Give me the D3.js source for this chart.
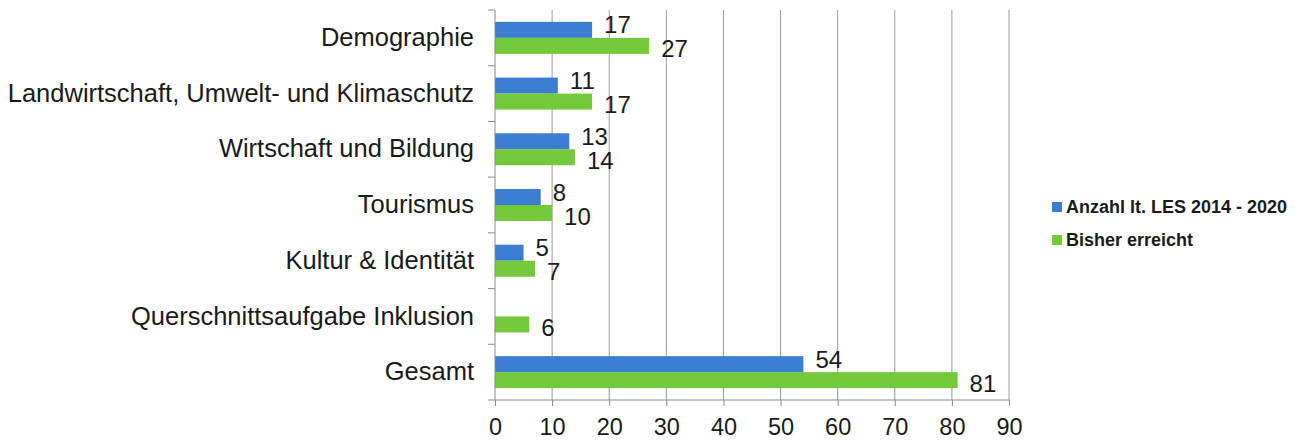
<!DOCTYPE html>
<html>
<head>
<meta charset="utf-8">
<script src="https://cdn.jsdelivr.net/npm/d3@7"></script>
<style>
  body { margin: 0; background: #fff; }
  text { font-family: "Liberation Sans", Arial, sans-serif; fill: #1a1a1a; }
</style>
</head>
<body>
<div id="vis"></div>
<script>
// data
var categories = ["Demographie", "Landwirtschaft, Umwelt- und Klimaschutz", "Wirtschaft und Bildung",
  "Tourismus", "Kultur & Identität", "Querschnittsaufgabe Inklusion", "Gesamt"];
var planned = [17, 11, 13, 8, 5, null, 54];
var reached = [27, 17, 14, 10, 7, 6, 81];
var seriesNames = ["Anzahl lt. LES 2014 - 2020", "Bisher erreicht"];
var colors = ["#3b7dd0", "#74c93b"];
var xTicks = [0, 10, 20, 30, 40, 50, 60, 70, 80, 90];

var width = 1301, height = 443;
var margin = { top: 10, left: 495, bottom: 43, right: 292 };

var svg = d3.select('#vis').append('svg')
  .attr('width', width)
  .attr('height', height);

var x = d3.scaleLinear()
  .domain([0, 90])
  .range([margin.left, width - margin.right]);

var y = d3.scaleBand()
  .domain(categories)
  .range([margin.top, height - margin.bottom]);

var barH = 16;

// gridlines
svg.append('g').selectAll('line')
  .data(xTicks.slice(1))
  .enter().append('line')
  .attr('x1', function(d) { return x(d); })
  .attr('x2', function(d) { return x(d); })
  .attr('y1', margin.top)
  .attr('y2', height - margin.bottom)
  .attr('stroke', '#9a9a9a')
  .attr('stroke-width', 1);

// bars
var rows = categories.map(function(c, i) {
  return { cat: c, vals: [planned[i], reached[i]] };
});

rows.forEach(function(r) {
  var mid = y(r.cat) + y.bandwidth() / 2;
  r.vals.forEach(function(v, j) {
    if (v == null) return;
    var top = j === 0 ? mid - barH : mid;
    svg.append('rect')
      .attr('x', x(0))
      .attr('y', top)
      .attr('width', x(v) - x(0))
      .attr('height', barH)
      .attr('fill', colors[j]);
    svg.append('text')
      .attr('x', x(v) + 12)
      .attr('y', top + barH / 2 + (j === 0 ? -5 : 3))
      .attr('dominant-baseline', 'central')
      .attr('font-size', 24)
      .text(v);
  });
});

// left axis
var yAxis = d3.axisLeft(y).tickSize(0).tickPadding(21);
var gy = svg.append('g')
  .attr('transform', 'translate(' + x(0) + ',0)')
  .call(yAxis);
gy.select('.domain').remove();
gy.selectAll('text').attr('font-size', 25.5).attr('fill', '#1a1a1a').attr('font-family', null);

svg.append('line')
  .attr('x1', x(0)).attr('x2', x(0))
  .attr('y1', margin.top).attr('y2', height - margin.bottom)
  .attr('stroke', '#8a8a8a');
// category boundary ticks
svg.append('g').selectAll('line')
  .data(categories)
  .enter().append('line')
  .attr('x1', x(0) - 7).attr('x2', x(0))
  .attr('y1', function(d) { return y(d); })
  .attr('y2', function(d) { return y(d); })
  .attr('stroke', '#8a8a8a');

// bottom axis
var xAxis = d3.axisBottom(x).tickValues(xTicks).tickSize(6).tickPadding(12);
var gx = svg.append('g')
  .attr('transform', 'translate(0,' + (height - margin.bottom) + ')')
  .call(xAxis);
gx.select('.domain').remove();
gx.selectAll('line').attr('stroke', '#8a8a8a');
gx.selectAll('text').attr('font-size', 23.5).attr('fill', '#1a1a1a').attr('font-family', null);
svg.append('line')
  .attr('x1', x(0) - 7).attr('x2', x(90))
  .attr('y1', height - margin.bottom).attr('y2', height - margin.bottom)
  .attr('stroke', '#8a8a8a');

// legend
var legend = svg.append('g').selectAll('g')
  .data(seriesNames)
  .enter().append('g')
  .attr('transform', function(d, i) { return 'translate(1052,' + (207 + i * 33) + ')'; });
legend.append('rect')
  .attr('x', 0).attr('y', -5)
  .attr('width', 10).attr('height', 10)
  .attr('fill', function(d, i) { return colors[i]; });
legend.append('text')
  .attr('x', 14)
  .attr('dominant-baseline', 'central')
  .attr('font-size', 18)
  .attr('font-weight', 'bold')
  .text(function(d) { return d; });
</script>
</body>
</html>
